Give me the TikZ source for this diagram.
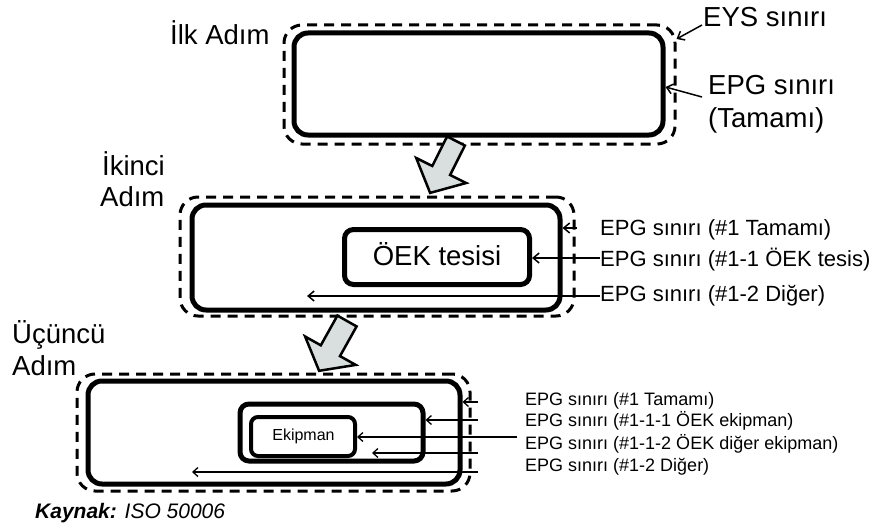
\documentclass[tikz,border=0pt]{standalone}
\usepackage{fontspec}
\setmainfont{Liberation Sans}
\usetikzlibrary{arrows.meta}
\definecolor{arrowgray}{RGB}{216,223,222}
\begin{document}
\begin{tikzpicture}[x=1pt,y=-1pt,
  epgbox/.style={draw,line width=5pt,rounded corners=14pt,inner sep=0pt},
  eysbox/.style={draw,line width=3pt,dash pattern=on 10pt off 7pt,rounded corners=18pt,inner sep=0pt},
  subbox/.style={draw,line width=4.5pt,rounded corners=9pt,inner sep=0pt},
  ptr/.style={line width=1.5pt,-{Straight Barb[length=6pt,width=10pt,line width=1.5pt]}},
  ptrsmall/.style={line width=1.3pt,-{Straight Barb[length=5pt,width=9pt,line width=1.3pt]}},
  blockarrow/.style={draw,line width=2.5pt,fill=arrowgray,line join=miter},
  steplbl/.style={font=\fontsize{27.5}{30}\selectfont,anchor=base west,inner sep=0pt},
  lbltwo/.style={font=\fontsize{22}{24}\selectfont,anchor=base west,inner sep=0pt},
  lblthree/.style={font=\fontsize{18}{20}\selectfont,anchor=base west,inner sep=0pt},
]
\useasboundingbox (0,0) rectangle (880,532);

% ---- Step 1 ----
\node[epgbox,minimum width=369pt,minimum height=102pt] (s1) at (478.5,84) {};
\node[eysbox,minimum width=391pt,minimum height=119pt] (d1) at (479.5,84.5) {};
\node[steplbl] (ilk) at (170,45) {İlk Adım};
\node[steplbl] (eys) at (703,27) {EYS sınırı};
\node[steplbl] (epg1) at (708,95) {EPG sınırı};
\node[steplbl] (epg1b) at (708,128) {(Tamamı)};
\coordinate (b1) at (702,25);
\coordinate (b1y) at (0,39);
\coordinate (b2) at (702,97);
\coordinate (b2y) at (0,87);
\draw[ptr] (b1) -- (d1.east |- b1y);
\draw[ptr] (b2) -- (s1.east |- b2y);

% ---- Step 2 ----
\node[epgbox,minimum width=368pt,minimum height=105pt] (s2) at (376,257.5) {};
\node[eysbox,minimum width=394pt,minimum height=119pt] (d2) at (377,256.5) {};
\node[subbox,line width=5pt,minimum width=185pt,minimum height=55pt] (oek) at (437,257) {};
\node[font=\fontsize{27.5}{30}\selectfont,anchor=base,inner sep=0pt] (oektxt) at (437,265) {ÖEK tesisi};
\node[steplbl] (iki) at (102,175) {İkinci};
\node[steplbl] (iki2) at (100,206.7) {Adım};
\node[lbltwo] (l21) at (600,235) {EPG sınırı (\#1 Tamamı)};
\node[lbltwo] (l22) at (600,266.7) {EPG sınırı (\#1-1 ÖEK tesis)};
\node[lbltwo] (l23) at (600,301) {EPG sınırı (\#1-2 Diğer)};
\coordinate (a21) at (577,228);
\coordinate (a22) at (600,258);
\coordinate (a23) at (600,296);
\coordinate (a23e) at (307,296);
\draw[ptr] (a21) -- (a21 -| s2.east);
\draw[ptr] (a22) -- (a22 -| oek.east);
\draw[ptr] (a23) -- (a23e);

% ---- Step 3 ----
\node[epgbox,minimum width=372pt,minimum height=103pt] (s3) at (274,432.5) {};
\node[eysbox,minimum width=393pt,minimum height=117pt] (d3) at (273.5,432.5) {};
\node[subbox,line width=5pt,minimum width=183pt,minimum height=57pt] (grp) at (331.5,432.5) {};
\node[subbox,line width=4pt,rounded corners=7pt,minimum width=104pt,minimum height=39pt] (ek) at (303,436.5) {};
\node[font=\fontsize{16}{18}\selectfont,anchor=base,inner sep=0pt] (ektxt) at (303.5,440) {Ekipman};
\node[steplbl] (ucu) at (12,343) {Üçüncü};
\node[steplbl] (ucu2) at (12,375) {Adım};
\node[lblthree] (l31) at (525,405.7) {EPG sınırı (\#1 Tamamı)};
\node[lblthree] (l32) at (525,426.7) {EPG sınırı (\#1-1-1 ÖEK ekipman)};
\node[lblthree] (l33) at (525,449) {EPG sınırı (\#1-1-2 ÖEK diğer ekipman)};
\node[lblthree] (l34) at (525,471.7) {EPG sınırı (\#1-2 Diğer)};
\coordinate (a31) at (478,402);
\coordinate (a32) at (478,420);
\coordinate (a33) at (517,437);
\coordinate (a34) at (478,453);
\coordinate (a34e) at (372,453);
\coordinate (a35) at (478,472);
\coordinate (a35e) at (192,472);
\draw[ptrsmall] (a31) -- (a31 -| s3.east);
\draw[ptrsmall] (a32) -- (a32 -| grp.east);
\draw[ptrsmall] (a33) -- (a33 -| ek.east);
\draw[ptrsmall] (a34) -- (a34e);
\draw[ptrsmall] (a35) -- (a35e);

% ---- block arrows between steps ----
\draw[blockarrow] (447.1,136.5) -- (464.9,145.5) -- (450.1,175.0) -- (466.2,183.0)
  -- (430.1,192.9) -- (416.2,158.0) -- (432.3,166.0) -- cycle;
\draw[blockarrow] (337.4,315.6) -- (356.6,326.4) -- (340.0,356.1) -- (355.7,364.9)
  -- (319.1,370.8) -- (305.1,336.5) -- (320.8,345.3) -- cycle;

% ---- source ----
\node[font=\fontsize{21}{23}\selectfont,anchor=base west,inner sep=0pt] (src) at (35,518)
  {\textbf{\textit{Kaynak:}} \textit{ISO 50006}};
\end{tikzpicture}
\end{document}
